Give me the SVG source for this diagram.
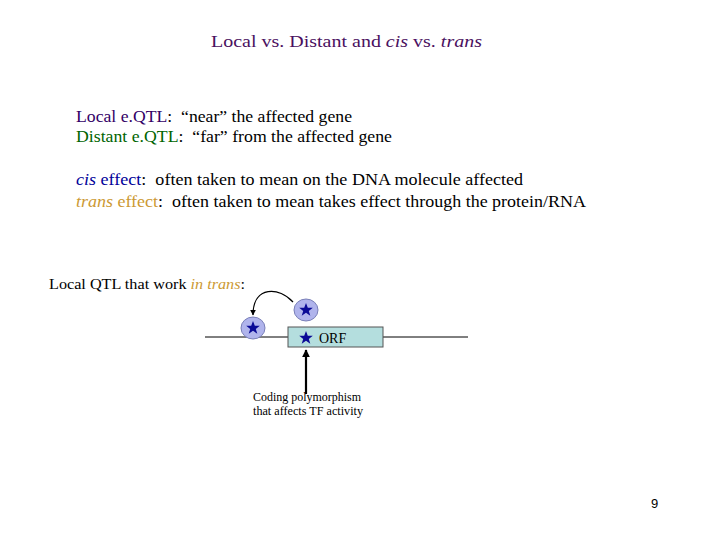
<svg xmlns="http://www.w3.org/2000/svg" width="720" height="540" viewBox="0 0 720 540" xml:space="preserve">
<style>
text{font-family:"Liberation Serif",serif;font-size:17px;fill:#000;white-space:pre}
.s{fill:#0A0A96}
.e{fill:#B0B4EC;stroke:#7A80B8;stroke-width:1}
.c{stroke:#000;fill:none;stroke-width:1.2}
</style>
<defs>
<marker id="ah" viewBox="0 0 10 10" refX="9" refY="5" markerWidth="5" markerHeight="5" orient="auto"><path d="M0,0L10,5L0,10z" fill="#000"/></marker>
<marker id="ah2" viewBox="0 0 10 10" refX="9" refY="5" markerWidth="3.5" markerHeight="3.5" orient="auto"><path d="M0,0L10,5L0,10z" fill="#000"/></marker>
<path id="star" d="M0,-7L1.8,-2.2L6.8,-2.2L2.8,0.9L4.3,5.7L0,2.8L-4.3,5.7L-2.8,0.9L-6.8,-2.2L-1.8,-2.2Z"/>
</defs>
<rect width="720" height="540" fill="#fff"/>
<text x="211" y="47" textLength="271" lengthAdjust="spacingAndGlyphs" style="fill:#4A1060">Local vs. Distant and <tspan font-style="italic">cis</tspan> vs. <tspan font-style="italic">trans</tspan></text>
<text x="76" y="122" textLength="276" lengthAdjust="spacingAndGlyphs"><tspan style="fill:#330066">Local e.QTL</tspan>:  “near” the affected gene</text>
<text x="76" y="142" textLength="316" lengthAdjust="spacingAndGlyphs"><tspan style="fill:#006400">Distant e.QTL</tspan>:  “far” from the affected gene</text>
<text x="76" y="185" textLength="447" lengthAdjust="spacingAndGlyphs"><tspan font-style="italic" style="fill:#000099">cis</tspan><tspan style="fill:#000099"> effect</tspan>:  often taken to mean on the DNA molecule affected</text>
<text x="76" y="207" textLength="510" lengthAdjust="spacingAndGlyphs"><tspan font-style="italic" style="fill:#CC9933">trans</tspan><tspan style="fill:#CC9933"> effect</tspan>:  often taken to mean takes effect through the protein/RNA</text>
<text x="49" y="289" textLength="196" lengthAdjust="spacingAndGlyphs" style="font-size:15px">Local QTL that work <tspan font-style="italic" style="fill:#CC9933">in trans</tspan>:</text>
<g id="connectors">
<line x1="205" y1="337" x2="468" y2="337" stroke="#000" stroke-width="1"/>
<path class="c" d="M293,302 C280,287 253,285 253,315" marker-end="url(#ah)"/>
<line x1="306" y1="394" x2="306" y2="350" stroke="#000" stroke-width="2.2" marker-end="url(#ah2)"/>
</g>
<g id="orf">
<rect x="288" y="327" width="95" height="20" fill="#B4DEDE" stroke="#555"/>
<use href="#star" x="306" y="338" class="s"/>
<text x="319" y="343" style="font-size:14px">ORF</text>
</g>
<g id="tf-left"><ellipse class="e" cx="253" cy="328" rx="12" ry="11"/><use href="#star" x="253" y="328" class="s"/></g>
<g id="tf-right"><ellipse class="e" cx="306" cy="310" rx="12" ry="11"/><use href="#star" x="306" y="310" class="s"/></g>
<g id="label"><text x="253" y="401" textLength="108" lengthAdjust="spacingAndGlyphs" style="font-size:12px">Coding polymorphism</text>
<text x="253" y="415" textLength="110" lengthAdjust="spacingAndGlyphs" style="font-size:12px">that affects TF activity</text></g>
<text x="651" y="508" style="font-family:'Liberation Sans',sans-serif;font-size:13px">9</text>
</svg>
